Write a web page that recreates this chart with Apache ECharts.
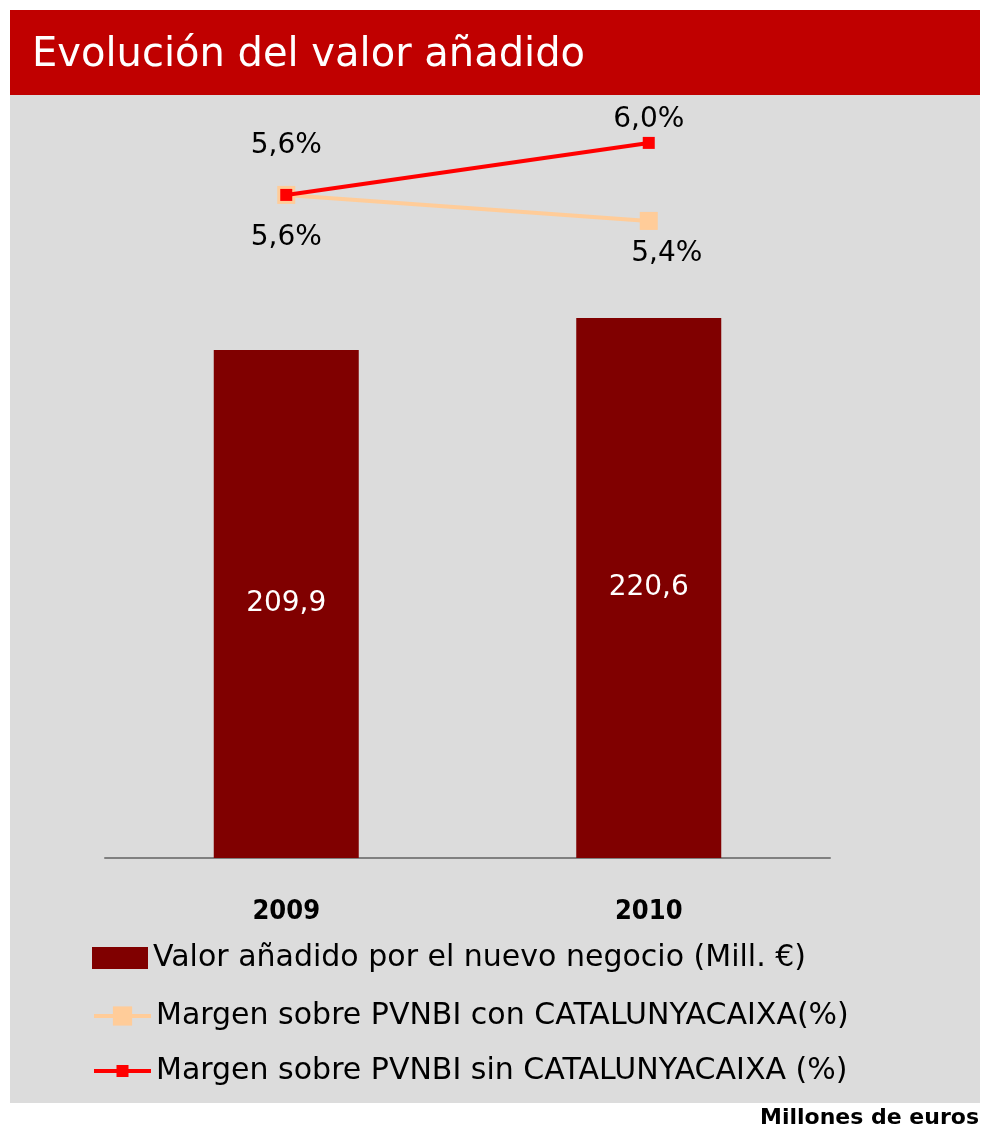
<!DOCTYPE html>
<html>
<head>
<meta charset="utf-8">
<style>
  html, body { margin: 0; padding: 0; background: #ffffff; }
  #main { width: 981px; height: 1130px; }
</style>
<script src="https://cdn.jsdelivr.net/npm/echarts@6/dist/echarts.min.js"></script>
</head>
<body>
<div id="main"></div>
<script>
// datos del gráfico
var years = ['2009', '2010'];
var valorAnadido = [209.9, 220.6];
var margenCon = [5.6, 5.4];
var margenSin = [5.6, 6.0];
var seriesNames = [
    'Valor añadido por el nuevo negocio (Mill. €)',
    'Margen sobre PVNBI con CATALUNYACAIXA(%)',
    'Margen sobre PVNBI sin CATALUNYACAIXA (%)'
];

function coma(v, d) { return v.toFixed(d).replace('.', ','); }

var myChart = echarts.init(document.getElementById('main'));

var legendText = { fontFamily: 'DejaVu Sans', fontSize: 30, color: '#000' };
function leyenda(name, top, w, h) {
    return {
        data: [name], left: 92, top: top, padding: 0,
        itemWidth: w, itemHeight: h,
        lineStyle: { width: 4 },
        icon: name === seriesNames[0] ? 'rect' : undefined,
        textStyle: legendText
    };
}

var option = {
    backgroundColor: '#ffffff',
    animation: false,
    graphic: [
        { type: 'rect', shape: { x: 10, y: 10, width: 970, height: 85 }, style: { fill: '#c00000' }, z: -10 },
        { type: 'rect', shape: { x: 10, y: 95, width: 970, height: 1008 }, style: { fill: '#dcdcdc' }, z: -10 },
        { type: 'text', left: 32, top: 36, style: { text: 'Evolución del valor añadido', fill: '#ffffff', font: '40px "DejaVu Sans"' } },
        { type: 'text', right: 2, top: 1107, style: { text: 'Millones de euros', fill: '#000000', font: 'bold 22px "DejaVu Sans"' } }
    ],
    legend: [
        leyenda(seriesNames[0], 943, 56, 22),
        leyenda(seriesNames[1], 1001, 57, 24),
        leyenda(seriesNames[2], 1056, 57, 15)
    ],
    grid: { left: 105, right: 151, top: 100, bottom: 272 },
    xAxis: {
        type: 'category',
        data: years,
        axisTick: { show: false },
        axisLine: { lineStyle: { color: '#808080', width: 2 } },
        axisLabel: { margin: 40, fontFamily: 'DejaVu Sans Condensed', fontWeight: 'bold', fontSize: 27, color: '#000' }
    },
    yAxis: [
        { type: 'value', min: 40, max: 293.5, show: false, splitLine: { show: false } },
        { type: 'value', min: 0.5, max: 6.33, show: false, splitLine: { show: false } }
    ],
    series: [
        {
            name: seriesNames[0],
            type: 'bar',
            barWidth: '40%',
            itemStyle: { color: '#800000' },
            label: {
                show: true, position: 'inside', color: '#fff',
                fontFamily: 'DejaVu Sans', fontSize: 28,
                formatter: function (p) { return coma(p.value, 1); }
            },
            data: valorAnadido
        },
        {
            name: seriesNames[1],
            type: 'line',
            yAxisIndex: 1,
            symbol: 'rect',
            symbolSize: 18,
            lineStyle: { color: '#ffcc99', width: 4 },
            itemStyle: { color: '#ffcc99' },
            label: {
                show: true, position: 'bottom', distance: 20, color: '#000',
                fontFamily: 'DejaVu Sans', fontSize: 28,
                formatter: function (p) { return coma(p.value, 1) + '%'; }
            },
            data: margenCon.map(function (v, i) {
                return i === 1 ? { value: v, label: { offset: [18, -10] } } : v;
            }),
            z: 3
        },
        {
            name: seriesNames[2],
            type: 'line',
            yAxisIndex: 1,
            symbol: 'rect',
            symbolSize: 12,
            lineStyle: { color: '#ff0000', width: 4 },
            itemStyle: { color: '#ff0000' },
            label: {
                show: true, position: 'top', distance: 3, color: '#000',
                fontFamily: 'DejaVu Sans', fontSize: 28,
                formatter: function (p) { return coma(p.value, 1) + '%'; }
            },
            data: margenSin.map(function (v, i) {
                return i === 0 ? { value: v, label: { distance: 29 } } : v;
            }),
            z: 4
        }
    ]
};

myChart.setOption(option);
</script>
</body>
</html>
